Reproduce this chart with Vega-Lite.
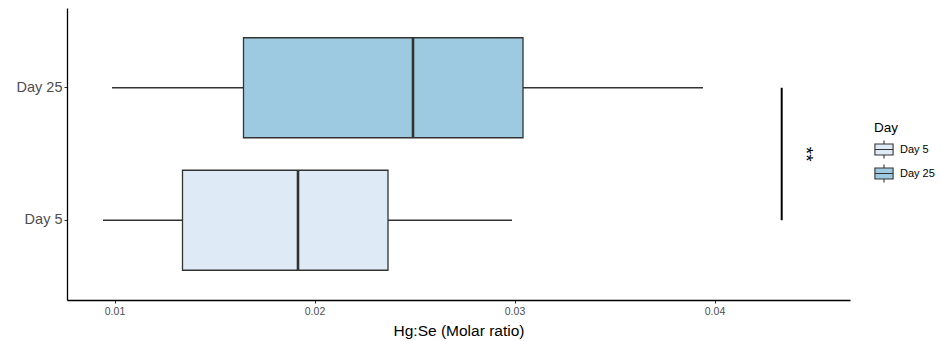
{
  "$schema": "https://vega.github.io/schema/vega-lite/v6.json",
  "width": 783,
  "height": 292,
  "autosize": "none",
  "padding": {"left": 67, "top": 8, "right": 92, "bottom": 41},
  "background": "white",
  "config": {
    "view": {"stroke": null},
    "font": "Liberation Sans",
    "axis": {
      "grid": false,
      "domainColor": "#000000",
      "domainWidth": 1.3,
      "tickColor": "#333333",
      "tickSize": 3,
      "tickWidth": 1,
      "labelColor": "#4d4d4d",
      "labelFont": "Liberation Sans",
      "titleFont": "Liberation Sans",
      "titleFontWeight": "normal",
      "titleColor": "#000000"
    }
  },
  "datasets": {
    "boxes": [
      {"day": "Day 5", "lower": 0.009425, "q1": 0.0134, "median": 0.019175, "q3": 0.023675, "upper": 0.029875},
      {"day": "Day 25", "lower": 0.009875, "q1": 0.01645, "median": 0.024925, "q3": 0.030425, "upper": 0.039425}
    ],
    "signif": [
      {"x": 0.04336, "from": "Day 25", "to": "Day 5", "label_x": 0.04455, "label": "**"}
    ]
  },
  "encoding": {
    "y": {
      "field": "day",
      "type": "nominal",
      "scale": {"domain": ["Day 25", "Day 5"], "paddingInner": 0.245, "paddingOuter": 0.2245},
      "axis": {"title": null, "labelFontSize": 14.5, "labelPadding": 2, "domainWidth": 1.3}
    }
  },
  "layer": [
    {
      "data": {"name": "boxes"},
      "mark": {"type": "rule", "color": "#333333", "strokeWidth": 1.3},
      "encoding": {
        "x": {
          "field": "lower",
          "type": "quantitative",
          "scale": {"domain": [0.007625, 0.046775], "nice": false, "zero": false},
          "axis": {
            "title": "Hg:Se (Molar ratio)",
            "titleFontSize": 15.5,
            "titlePadding": 7,
            "values": [0.01, 0.02, 0.03, 0.04],
            "format": ".2f",
            "labelFontSize": 10.5,
            "labelPadding": 3
          }
        },
        "x2": {"field": "upper"}
      }
    },
    {
      "data": {"name": "boxes"},
      "mark": {"type": "bar", "stroke": "#333333", "strokeWidth": 1.3},
      "encoding": {
        "x": {"field": "q1", "type": "quantitative"},
        "x2": {"field": "q3"},
        "fill": {
          "field": "day",
          "type": "nominal",
          "scale": {"domain": ["Day 5", "Day 25"], "range": ["#deebf7", "#9ecae1"]},
          "legend": {
            "title": "Day",
            "orient": "none",
            "legendX": 807,
            "legendY": 113,
            "titleFontSize": 13.5,
            "titleFontWeight": "normal",
            "titleColor": "#000000",
            "titlePadding": 5,
            "labelFontSize": 11,
            "labelColor": "#000000",
            "symbolType": "M-1,-0.6H1V0.6H-1Z M-1,0H1 M0,-0.6V-1 M0,0.6V1",
            "symbolSize": 330,
            "symbolStrokeColor": "#333333",
            "symbolStrokeWidth": 1.1,
            "symbolOpacity": 1,
            "rowPadding": 0,
            "labelOffset": 6
          }
        }
      }
    },
    {
      "data": {"name": "boxes"},
      "mark": {"type": "bar", "stroke": "#333333", "strokeWidth": 2.6, "fill": null},
      "encoding": {
        "x": {"field": "median", "type": "quantitative"},
        "x2": {"field": "median"}
      }
    },
    {
      "data": {"name": "signif"},
      "mark": {"type": "rule", "color": "#000000", "strokeWidth": 2},
      "encoding": {
        "x": {"field": "x", "type": "quantitative"},
        "y": {"field": "from", "type": "nominal"},
        "y2": {"field": "to"}
      }
    },
    {
      "data": {"name": "signif"},
      "mark": {"type": "text", "angle": 90, "fontSize": 19, "color": "#000000", "align": "center", "baseline": "middle", "font": "Liberation Sans"},
      "encoding": {
        "x": {"field": "label_x", "type": "quantitative"},
        "y": {"field": "to", "type": "nominal", "bandPosition": -0.16},
        "text": {"field": "label"}
      }
    }
  ]
}
